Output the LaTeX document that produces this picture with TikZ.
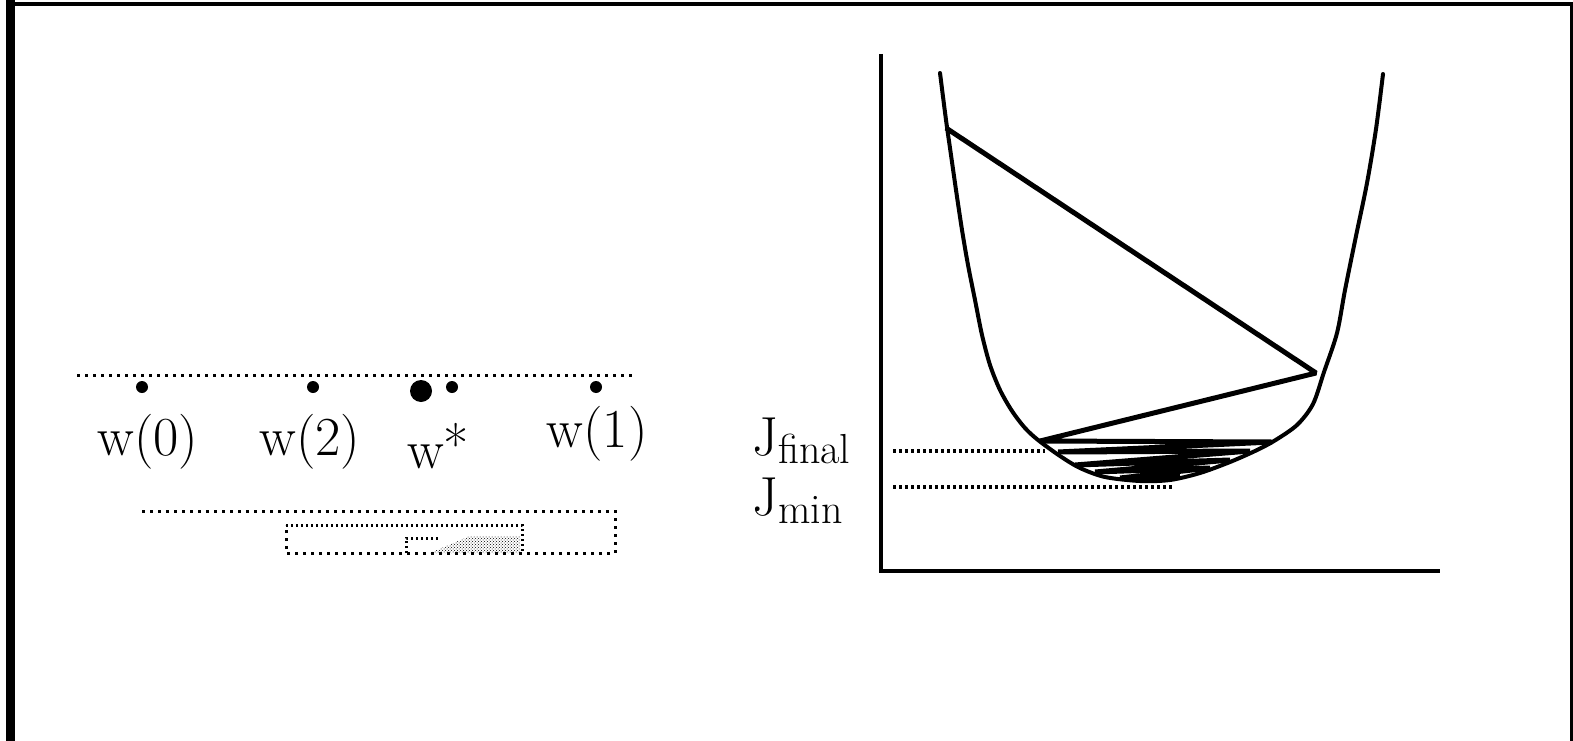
\documentclass[tikz,border=0pt]{standalone}
\usetikzlibrary{patterns}
\begin{document}
\begin{tikzpicture}[x=1pt,y=-1pt,
  dotln/.style={line width=3pt, dash pattern=on 3pt off 5pt},
  fineln/.style={line width=3pt, dash pattern=on 2pt off 3pt},
  levelln/.style={line width=4.5pt, dash pattern=on 3pt off 3pt},
  curve/.style={line width=4pt, line join=round, line cap=round},
  zig/.style={line width=5pt, line join=bevel},
  lbl/.style={font=\fontsize{55}{60}\selectfont, inner sep=0pt},
  axis/.style={line width=3.5pt}]
\useasboundingbox (0,0) rectangle (1573,741);
% frame
\fill (6,0) rectangle (15,741);
\fill (6,2) rectangle (1573,6);
\fill (1570,2) rectangle (1573,741);

% ---------- left part ----------
\draw[dotln] (77,375) -- (632,375);
\foreach \x in {142,313,452,596} \fill (\x,387) circle (6);
\fill (421,391) circle (11);

\node[lbl, anchor=base] (w0) at (148,455) {w(0)};
\node[lbl, anchor=base] (w2) at (310,455) {w(2)};
\node[lbl, anchor=base west] (ws) at (407,468) {w\raisebox{4pt}{*}};
\node[lbl, anchor=base] (w1) at (597,447) {w(1)};

\draw[dotln] (142,511) -- (615,511) -- (615,553) -- (286,553) -- (286,525);
\draw[fineln] (286,525) -- (522,525) -- (522,553);
\draw[fineln] (406,553) -- (406,538) -- (440,538);
\fill[pattern=crosshatch dots] (430,553) -- (470,536) -- (520,536) -- (520,553) -- cycle;

% ---------- right part ----------
\coordinate (O) at (881,571);
\coordinate (ytop) at (881,54);
\coordinate (xend) at (1440,571);
\draw[axis] (ytop) -- (O) -- (xend);

\draw[curve] plot[smooth, tension=0.5] coordinates {
 (940,73) (946,120) (951,155) (956,190) (962,230) (968,265) (975,300)
 (982,335) (990,365) (1000,390) (1012,411) (1025,428) (1038,440)
 (1060,456) (1080,468) (1105,477) (1140,481) (1170,480) (1200,473)
 (1230,462) (1255,451) (1274,441) (1297,425) (1313,404) (1324,372)
 (1337,333) (1345,290) (1356,236) (1367,183) (1376,129) (1383,74)};

% gradient-descent zig-zag
\coordinate (A) at (946,128);
\coordinate (B) at (1316,373);
\coordinate (C) at (1040,441);
\coordinate (D) at (1272,442);
\coordinate (E) at (1058,452);
\coordinate (F) at (1250,451);
\coordinate (G) at (1075,465);
\coordinate (H) at (1230,460);
\coordinate (I) at (1095,472);
\coordinate (J) at (1210,468);
\coordinate (K) at (1120,478);
\coordinate (L) at (1180,476);
\draw[zig] (A) -- (B) -- (C) -- (D) -- (E) -- (F) -- (G) -- (H) -- (I) -- (J) -- (K) -- (L);

% levels
\coordinate (jf1) at (893,451);
\coordinate (jf2) at (1045,451);
\coordinate (jm1) at (893,487);
\coordinate (jm2) at (1174,487);
\draw[levelln] (jf1) -- (jf2);
\draw[levelln] (jm1) -- (jm2);

\node[lbl, anchor=base west] (jfinal) at (752,455) {J\raisebox{-8pt}{\fontsize{42}{46}\selectfont final}};
\node[lbl, anchor=base west] (jmin) at (752,515) {J\raisebox{-8pt}{\fontsize{42}{46}\selectfont min}};
\end{tikzpicture}
\end{document}
